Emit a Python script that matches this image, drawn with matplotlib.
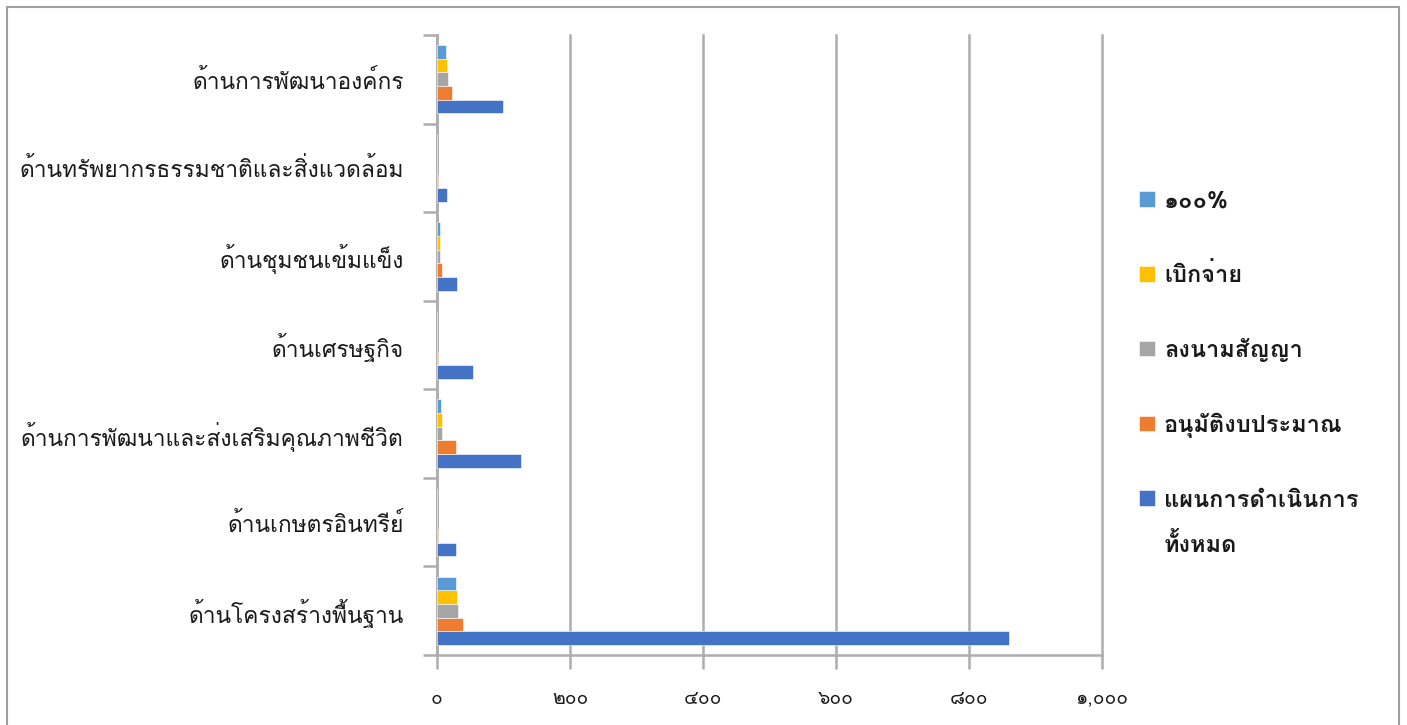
import matplotlib
matplotlib.use("Agg")
import matplotlib.pyplot as plt
from matplotlib.ticker import FixedLocator, FuncFormatter
from matplotlib.patches import Rectangle
import numpy as np

plt.rcParams['font.family'] = ['Loma', 'DejaVu Sans']

categories = ["ด้านโครงสร้างพื้นฐาน", "ด้านเกษตรอินทรีย์", "ด้านการพัฒนาและส่งเสริมคุณภาพชีวิต",
              "ด้านเศรษฐกิจ", "ด้านชุมชนเข้มแข็ง", "ด้านทรัพยากรธรรมชาติและสิ่งแวดล้อม", "ด้านการพัฒนาองค์กร"]
series_names = ["แผนการดำเนินการ\nทั้งหมด", "อนุมัติงบประมาณ", "ลงนามสัญญา", "เบิกจ่าย", "๑๐๐%"]
total    = [860, 28, 126, 54, 30, 15, 99]
approved = [39, 1, 28, 1, 7.5, 1, 23]
contract = [32, 0, 7.5, 0.5, 4, 0, 16]
disbursed = [30, 0, 7.5, 0.5, 4.5, 0, 15]
complete = [29, 0, 5.5, 0.5, 4.5, 0, 14]
series_values = [total, approved, contract, disbursed, complete]
colors = ['#4472C4', '#ED7D31', '#A5A5A5', '#FFC000', '#5B9BD5']
xticks = [0, 200, 400, 600, 800, 1000]

thai_digits = str.maketrans("0123456789", "๐๑๒๓๔๕๖๗๘๙")
def thai_fmt(v, pos):
    return f"{int(v):,}".translate(thai_digits)

W, H = 1407, 725
fig = plt.figure(figsize=(W/100, H/100), dpi=100)
ax = fig.add_axes([437/W, 1-655/H, 665/W, 620/H])

y = np.arange(len(categories))
h = 0.154
for i, (vals, c, name) in enumerate(zip(series_values, colors, series_names)):
    ax.barh(y + (i-2)*h, vals, height=h, color=c, edgecolor='white', linewidth=0.4, label=name, zorder=3)

ax.set_xlim(0, 1000)
ax.set_ylim(-0.5, len(categories)-0.5)
ax.xaxis.set_major_locator(FixedLocator(xticks))
ax.xaxis.set_major_formatter(FuncFormatter(thai_fmt))
ax.grid(axis='x', color='#ADADAD', linewidth=1.8, zorder=0)
for gl in ax.get_xgridlines():
    gl.set_clip_on(False)
ax.set_yticks(y)
ax.set_yticklabels(categories)
ax.yaxis.set_minor_locator(FixedLocator(np.arange(-0.5, len(categories), 1)))
ax.tick_params(axis='y', which='major', length=0, pad=24, labelsize=16.4, labelcolor='#1a1a1a')
ax.tick_params(axis='y', which='minor', length=10, width=1.8, color='#ADADAD')
ax.tick_params(axis='x', which='major', length=10, width=1.8, color='#ADADAD', pad=15, labelsize=14, labelcolor='#1a1a1a')
for s in ['top', 'right']:
    ax.spines[s].set_visible(False)
for s in ['left', 'bottom']:
    ax.spines[s].set_color('#ADADAD')
    ax.spines[s].set_linewidth(1.8)

handles, labels = ax.get_legend_handles_labels()
labels = [l.split("\n") for l in labels]
first_lines = [l[0] for l in labels]
leg = fig.legend(handles[::-1], first_lines[::-1], loc='upper left', bbox_to_anchor=(1118/W, 1-168/H),
                 frameon=False, prop={'weight': 'bold', 'size': 17}, labelspacing=2.15,
                 handlelength=0.65, handleheight=0.65, handletextpad=0.4)
for t in leg.get_texts():
    t.set_color('#1a1a1a')

# continuation lines of multi-line legend labels
fig.canvas.draw()
renderer = fig.canvas.get_renderer()
for txt, parts in zip(leg.get_texts(), labels[::-1]):
    if len(parts) > 1:
        bb = txt.get_window_extent(renderer)
        for k, extra in enumerate(parts[1:], start=1):
            fig.text(bb.x0 / W, (bb.y0 - 45 * k) / H, extra, fontsize=17, fontweight='bold',
                     color='#1a1a1a', ha='left', va='bottom')

fig.patches.append(Rectangle((7/W, -0.01), (1399-7)/W, (H-7)/H + 0.01, transform=fig.transFigure,
                             fill=False, edgecolor='#A0A0A0', linewidth=1.5))
fig.savefig("out.png", dpi=100)
